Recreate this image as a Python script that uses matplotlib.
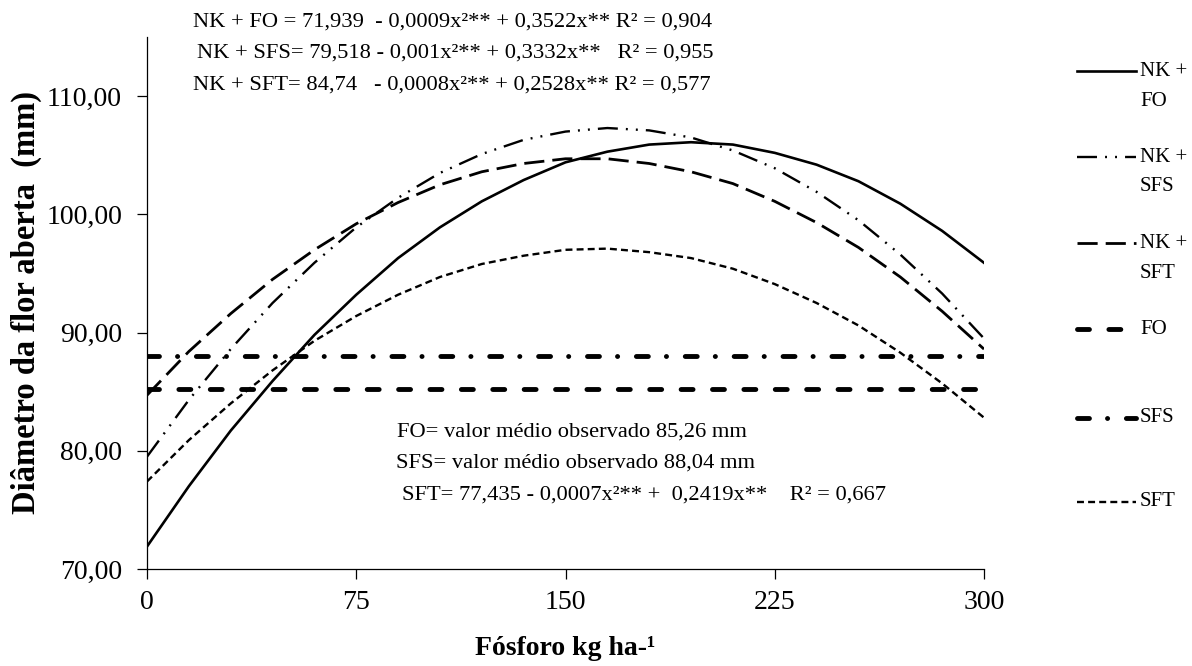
import matplotlib
matplotlib.use("Agg")
import matplotlib.pyplot as plt
from matplotlib.ticker import FuncFormatter
from matplotlib.lines import Line2D

plt.rcParams['font.family'] = ['Liberation Serif', 'DejaVu Serif']
plt.rcParams['lines.scale_dashes'] = False

# values
fosforo = [0, 15, 30, 45, 60, 75, 90, 105, 120, 135, 150,
           165, 180, 195, 210, 225, 240, 255, 270, 285, 300]
nk_fo = [71.9, 77.0, 81.7, 85.9, 89.8, 93.2, 96.3, 98.9, 101.1, 102.9, 104.4,
         105.3, 105.9, 106.1, 105.9, 105.2, 104.2, 102.8, 100.9, 98.6, 95.9]
nk_sfs = [79.5, 84.3, 88.6, 92.5, 95.9, 98.9, 101.4, 103.5, 105.1, 106.3, 107.0,
          107.3, 107.1, 106.5, 105.4, 103.9, 101.9, 99.5, 96.6, 93.3, 89.5]
nk_sft = [84.7, 88.4, 91.6, 94.5, 97.0, 99.2, 101.0, 102.5, 103.6, 104.3, 104.7,
          104.7, 104.3, 103.6, 102.6, 101.1, 99.3, 97.2, 94.7, 91.8, 88.6]
sft = [77.4, 80.9, 84.0, 86.8, 89.3, 91.4, 93.2, 94.7, 95.8, 96.5, 97.0,
       97.1, 96.8, 96.3, 95.4, 94.1, 92.5, 90.6, 88.3, 85.7, 82.8]
fo_media = 85.26
sfs_media = 88.04

labels = ['NK +\nFO', 'NK +\nSFS', 'NK +\nSFT', 'FO', 'SFS', 'SFT']
x_ticks = [0, 75, 150, 225, 300]
y_ticks = [70, 80, 90, 100, 110]

eq_top = ['NK + FO = 71,939  - 0,0009x\u00b2** + 0,3522x** R\u00b2 = 0,904',
          'NK + SFS= 79,518 - 0,001x\u00b2** + 0,3332x**   R\u00b2 = 0,955',
          'NK + SFT= 84,74   - 0,0008x\u00b2** + 0,2528x** R\u00b2 = 0,577']
eq_bottom = ['FO= valor m\u00e9dio observado 85,26 mm',
             'SFS= valor m\u00e9dio observado 88,04 mm',
             'SFT= 77,435 - 0,0007x\u00b2** +  0,2419x**    R\u00b2 = 0,667']

W, H = 1192, 666
fig = plt.figure(figsize=(W / 100, H / 100), dpi=100)
ax = fig.add_axes([147 / W, 1 - 569 / H, (984 - 147) / W, (569 - 37) / H])

styles = [
    dict(linestyle='-', linewidth=1.9),
    dict(linestyle=(0, (14.4, 5.8, 1.4, 5.8, 1.4, 5.8)), linewidth=1.7),
    dict(linestyle=(0, (14.5, 5.8)), linewidth=2.0),
    dict(linestyle=(0, (8.6, 14.0)), linewidth=3.5, dash_capstyle='round'),
    dict(linestyle=(0, (8.6, 13.0, 0.1, 13.5)), linewidth=3.5, dash_capstyle='round'),
    dict(linestyle=(0, (5.0, 3.0)), linewidth=1.7),
]

series = [nk_fo, nk_sfs, nk_sft,
          [fo_media] * len(fosforo), [sfs_media] * len(fosforo), sft]
for ys, st in zip(series, styles):
    ax.plot(fosforo, ys, color='black', solid_joinstyle='round', **st)

ax.set_xlim(0, 300)
ax.set_ylim(70, 115)
ax.set_xticks(x_ticks)
ax.set_yticks(y_ticks)
ax.yaxis.set_major_formatter(FuncFormatter(lambda v, p: f'{v:.2f}'.replace('.', ',')))
ax.tick_params(direction='out', length=7, width=0.9, labelsize=20)
ax.tick_params(axis='y', pad=11)
ax.tick_params(axis='x', pad=8)
for s in ['top', 'right']:
    ax.spines[s].set_visible(False)
for s in ['left', 'bottom']:
    ax.spines[s].set_linewidth(0.9)

ax.set_xlabel('F\u00f3sforo kg ha-\u00b9', fontsize=20, fontweight='bold', labelpad=15)
ax.set_ylabel('Di\u00e2metro da flor aberta  (mm)', fontsize=23.5, fontweight='bold', labelpad=3)

# equations
for txt, (px, py) in zip(eq_top, [(193, 22), (197, 53), (193, 85)]):
    fig.text(px / W, 1 - py / H, txt, fontsize=16.2, va='center', ha='left')
for txt, (px, py) in zip(eq_bottom, [(397, 432), (396, 463), (402, 495)]):
    fig.text(px / W, 1 - py / H, txt, fontsize=16.2, va='center', ha='left')

# legend on the right
leg_y = [71, 157, 243, 329, 418, 502]
for lab, st, py in zip(labels, styles, leg_y):
    fig.add_artist(Line2D([1077 / W, 1136 / W], [1 - py / H] * 2,
                          transform=fig.transFigure, color='black', **st))
    for j, part in enumerate(lab.split('\n')):
        fig.text(1140 / W, 1 - (py + 30 * j) / H, part, fontsize=15,
                 va='center', ha='left')

fig.savefig('out.png', dpi=100)
